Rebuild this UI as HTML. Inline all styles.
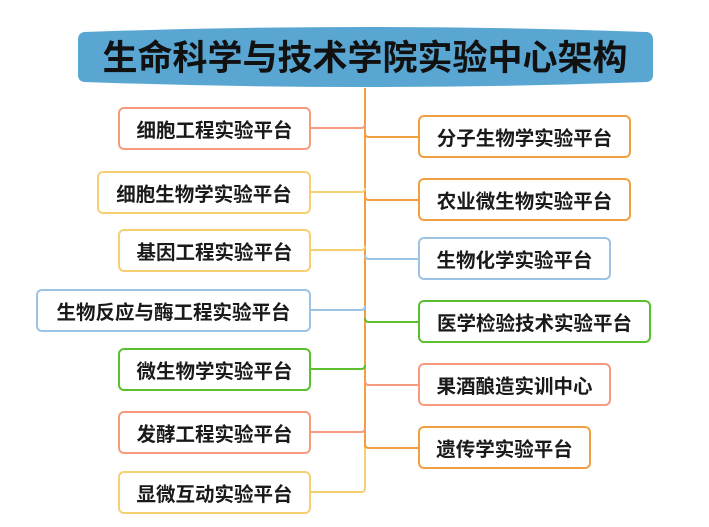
<!DOCTYPE html>
<html><head><meta charset="utf-8"><style>
html,body{margin:0;padding:0;background:#fff;}
body{width:709px;height:527px;position:relative;overflow:hidden;font-family:"Liberation Sans","Noto Sans CJK SC",sans-serif;}
.b{position:absolute;box-sizing:border-box;border:2px solid;border-radius:6px;background:#fff;display:flex;align-items:center;justify-content:center;font-size:19.5px;font-weight:bold;color:#1a1a1a;}
svg{position:absolute;left:0;top:0;}
</style></head><body>
<svg width="709" height="527">
<path d="M84 32 Q365 22 647 32 Q653 33 653 40 L653 75 Q653 81 647 82 Q365 92 84 82 Q78 81 78 75 L78 40 Q78 33 84 32Z" fill="#5aa6d3"/>
<text x="365" y="70" text-anchor="middle" font-size="35" font-weight="bold" fill="#111" font-family="Liberation Sans, Noto Sans CJK SC, sans-serif">生命科学与技术学院实验中心架构</text>
<g fill="none" stroke-width="2">
<line x1="365" y1="88" x2="365" y2="447" stroke="#f0a040"/>
<line x1="365" y1="447" x2="365" y2="488" stroke="#f7cf73"/>
<path d="M311 128 L361 128 Q365 128 365 124" stroke="#f79a7e"/>
<path d="M311 192 L361 192 Q365 192 365 188" stroke="#f7cf73"/>
<path d="M311 250 L361 250 Q365 250 365 246" stroke="#f7cf73"/>
<path d="M311 310 L361 310 Q365 310 365 306" stroke="#9cc3e5"/>
<path d="M311 369 L361 369 Q365 369 365 365" stroke="#5ac02e"/>
<path d="M311 432 L361 432 Q365 432 365 428" stroke="#f79a7e"/>
<path d="M311 492 L361 492 Q365 492 365 488" stroke="#f7cf73"/>
<path d="M365 133 Q365 137 369 137 L418 137" stroke="#f0a040"/>
<path d="M365 196 Q365 200 369 200 L418 200" stroke="#f0a040"/>
<path d="M365 255 Q365 259 369 259 L418 259" stroke="#9cc3e5"/>
<path d="M365 318 Q365 322 369 322 L418 322" stroke="#5ac02e"/>
<path d="M365 381 Q365 385 369 385 L418 385" stroke="#f79a7e"/>
<path d="M365 444 Q365 448 369 448 L418 448" stroke="#f0a040"/>
</g>
</svg>
<div class="b" style="left:118px;top:107px;width:193px;height:43px;border-color:#f79a7e">细胞工程实验平台</div>
<div class="b" style="left:97px;top:171px;width:214px;height:43px;border-color:#f7cf73">细胞生物学实验平台</div>
<div class="b" style="left:118px;top:229px;width:193px;height:43px;border-color:#f7cf73">基因工程实验平台</div>
<div class="b" style="left:36px;top:289px;width:275px;height:43px;border-color:#9cc3e5">生物反应与酶工程实验平台</div>
<div class="b" style="left:118px;top:348px;width:193px;height:43px;border-color:#5ac02e">微生物学实验平台</div>
<div class="b" style="left:118px;top:411px;width:193px;height:43px;border-color:#f79a7e">发酵工程实验平台</div>
<div class="b" style="left:118px;top:471px;width:193px;height:43px;border-color:#f7cf73">显微互动实验平台</div>
<div class="b" style="left:418px;top:115px;width:213px;height:43px;border-color:#f0a040">分子生物学实验平台</div>
<div class="b" style="left:418px;top:178px;width:213px;height:43px;border-color:#f0a040">农业微生物实验平台</div>
<div class="b" style="left:418px;top:237px;width:193px;height:43px;border-color:#9cc3e5">生物化学实验平台</div>
<div class="b" style="left:418px;top:300px;width:233px;height:43px;border-color:#5ac02e">医学检验技术实验平台</div>
<div class="b" style="left:418px;top:363px;width:193px;height:43px;border-color:#f79a7e">果酒酿造实训中心</div>
<div class="b" style="left:418px;top:426px;width:173px;height:43px;border-color:#f0a040">遗传学实验平台</div>
</body></html>
